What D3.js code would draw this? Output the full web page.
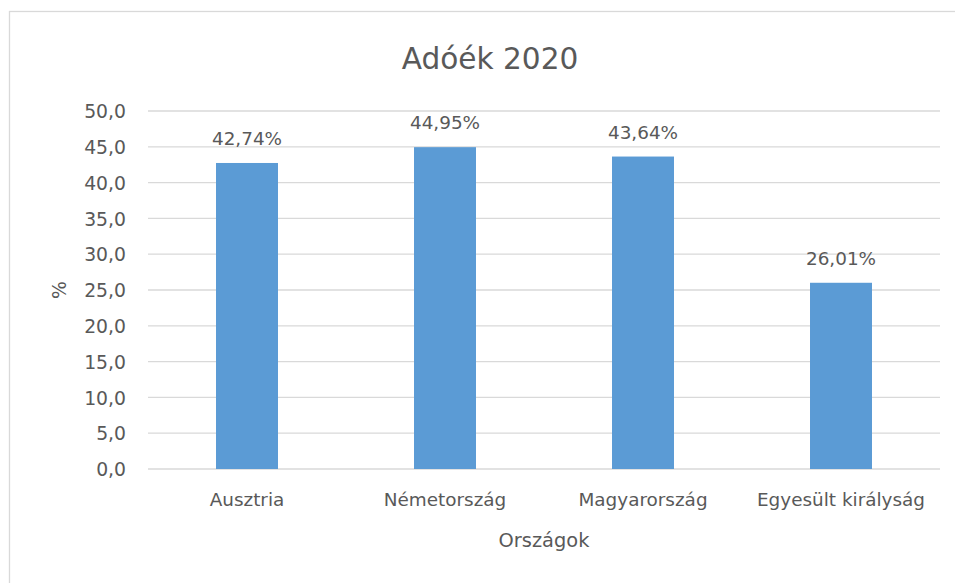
<!DOCTYPE html>
<html>
<head>
<meta charset="utf-8">
<script src="https://cdn.jsdelivr.net/npm/d3@7"></script>
<style>
	body { margin: 0; background: #fff; }
	text { font-family: "DejaVu Sans", sans-serif; fill: #595959; }
</style>
</head>
<body>
<svg id="chart" width="955" height="583"></svg>
<script>
// chart data
const countries = ["Ausztria", "Németország", "Magyarország", "Egyesült királyság"];
const taxWedge = [42.74, 44.95, 43.64, 26.01];
const yTicks = [0, 5, 10, 15, 20, 25, 30, 35, 40, 45, 50];

const chartTitle = "Adóék 2020";
const xTitle = "Országok";
const yTitle = "%";

let margin = { top: 111, right: 15, bottom: 114, left: 148 };
let width = 955 - margin.left - margin.right;
let height = 583 - margin.top - margin.bottom;

const svg = d3.select("#chart");

// outer chart border (runs off the right / bottom edge)
svg.append("rect")
	.attr("x", 9.5)
	.attr("y", 11.5)
	.attr("width", 1000)
	.attr("height", 1000)
	.attr("fill", "none")
	.attr("stroke", "#d9d9d9")
	.attr("stroke-width", 1.3);

const g = svg.append("g")
	.attr("transform", `translate(${margin.left},${margin.top})`);

let x = d3.scaleBand()
	.domain(countries)
	.range([0, width])
	.padding(0);

let y = d3.scaleLinear()
	.domain([0, 50])
	.range([height, 0]);

const barW = x.bandwidth() * 0.313;
const fmt = (v, d) => v.toFixed(d).replace(".", ",");

// gridlines
g.selectAll(".grid")
	.data(yTicks)
	.enter()
	.append("line")
	.attr("class", "grid")
	.attr("x1", 0)
	.attr("x2", width)
	.attr("y1", (d) => y(d))
	.attr("y2", (d) => y(d))
	.attr("stroke", "#d9d9d9")
	.attr("stroke-width", 1.3);

// y tick labels
const yAxis = d3.axisLeft(y)
	.tickValues(yTicks)
	.tickSize(0)
	.tickPadding(22)
	.tickFormat((d) => fmt(d, 1));

g.append("g")
	.call(yAxis)
	.call((s) => s.select(".domain").remove())
	.selectAll("text")
	.attr("font-size", "18.8px")
	.attr("font-family", "DejaVu Sans, sans-serif")
	.attr("fill", "#595959")
	.attr("dy", "0.36em");

// x tick labels
const xAxis = d3.axisBottom(x).tickSize(0).tickPadding(24);

g.append("g")
	.attr("transform", `translate(0,${height})`)
	.call(xAxis)
	.call((s) => s.select(".domain").remove())
	.selectAll("text")
	.attr("font-size", "18.4px")
	.attr("font-family", "DejaVu Sans, sans-serif")
	.attr("fill", "#595959");

// bars
g.selectAll(".bar")
	.data(taxWedge)
	.enter()
	.append("rect")
	.attr("class", "bar")
	.attr("x", (d, i) => x(countries[i]) + x.bandwidth() / 2 - barW / 2)
	.attr("y", (d) => y(d))
	.attr("width", barW)
	.attr("height", (d) => height - y(d))
	.attr("fill", "#5b9bd5");

// value labels
g.selectAll(".val")
	.data(taxWedge)
	.enter()
	.append("text")
	.attr("class", "val")
	.attr("x", (d, i) => x(countries[i]) + x.bandwidth() / 2)
	.attr("y", (d) => y(d) - 18)
	.attr("text-anchor", "middle")
	.attr("font-size", "18.4px")
	.text((d) => fmt(d, 2) + "%");

// titles
svg.append("text")
	.attr("x", 490)
	.attr("y", 69)
	.attr("text-anchor", "middle")
	.attr("font-size", "29.6px")
	.text(chartTitle);

svg.append("text")
	.attr("x", 544)
	.attr("y", 547)
	.attr("text-anchor", "middle")
	.attr("font-size", "19.4px")
	.text(xTitle);

svg.append("text")
	.attr("transform", "translate(66,290) rotate(-90)")
	.attr("text-anchor", "middle")
	.attr("font-size", "18.8px")
	.text(yTitle);
</script>
</body>
</html>
